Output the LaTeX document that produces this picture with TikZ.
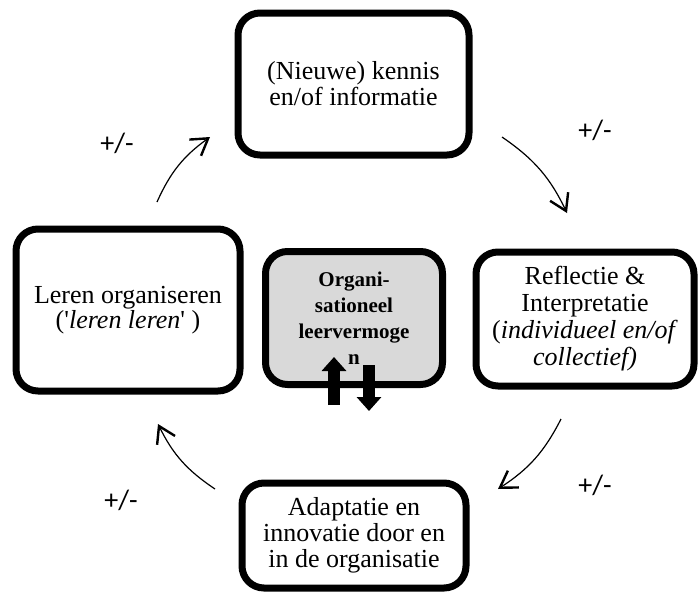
\documentclass[tikz,border=0pt]{standalone}
\usepackage{fontspec}
\setmainfont{Liberation Serif}
\newfontfamily\signfamily{Carlito}
\usepackage{tikz}
\usetikzlibrary{arrows.meta}
\definecolor{core}{RGB}{217,217,217}
\tikzset{
  stage/.style={draw=black, line width=7pt, rounded corners=22pt, fill=white,
    align=center, inner sep=0pt, font=\fontsize{26}{26}\selectfont},
  loop arrow/.style={-{Straight Barb[length=16pt,width=20pt,line width=2.4pt]}, line width=1.2pt},
  block arrow/.style={-{Triangle[width=24pt,length=14pt]}, line width=12pt},
  sign/.style={font=\signfamily\fontsize{28}{28}\selectfont}
}

\begin{document}
\begin{tikzpicture}[x=1pt,y=-1pt]
    \useasboundingbox (0,0) rectangle (699,592);
    % the four stages of the cycle
    \node[stage, minimum width=231pt, minimum height=142pt] (kennis) at (353.5,84)
      {(Nieuwe) kennis\\en/of informatie};
    \node[stage, minimum width=218pt, minimum height=134pt, font=\fontsize{26}{27}\selectfont]
      (reflectie) at (585,319)
      {Reflectie \&\\Interpretatie\\(\textit{individueel en/of}\\\textit{collectief)}};
    \node[stage, minimum width=224pt, minimum height=105pt] (adaptatie) at (354,535.5)
      {Adaptatie en\\innovatie door en\\in de organisatie};
    \node[stage, minimum width=224pt, minimum height=162pt, font=\fontsize{26}{22}\selectfont]
      (leren) at (128,310)
      {Leren organiseren\\(\textquotesingle\textit{leren leren}\textquotesingle\ )};
    \node[stage, fill=core, minimum width=177pt, minimum height=133pt,
      font=\fontsize{21}{26}\selectfont\bfseries] (vermogen) at (354,318)
      {Organi-\\sationeel\\leervermoge\\n};
    % curved arrows round the centre
    \coordinate (leren-out) at (157,202);
    \coordinate (kennis-in) at (210,137);
    \coordinate (kennis-out) at (502,137);
    \coordinate (reflectie-in) at (567,213);
    \coordinate (reflectie-out) at (561,419);
    \coordinate (adaptatie-in) at (498,489);
    \coordinate (adaptatie-out) at (215,489);
    \coordinate (leren-in) at (158,424);
    \draw[loop arrow] (leren-out) to[bend left=15] (kennis-in);
    \draw[loop arrow] (kennis-out) to[bend left=15] (reflectie-in);
    \draw[loop arrow] (reflectie-out) to[bend left=15] (adaptatie-in);
    \draw[loop arrow] (adaptatie-out) to[bend left=15] (leren-in);
    \foreach \name/\pos in {nw/{(117,143)},ne/{(595,130)},se/{(595,485)},sw/{(121,500)}}
      \node[sign] (sign-\name) at \pos {+/-};
    % in and out of the core
    \coordinate (up-from) at (334,405);
    \coordinate (up-to) at (334,357);
    \coordinate (down-from) at (369,365);
    \coordinate (down-to) at (369,411);
    \draw[block arrow] (up-from) -- (up-to);
    \draw[block arrow] (down-from) -- (down-to);
\end{tikzpicture}
\end{document}
